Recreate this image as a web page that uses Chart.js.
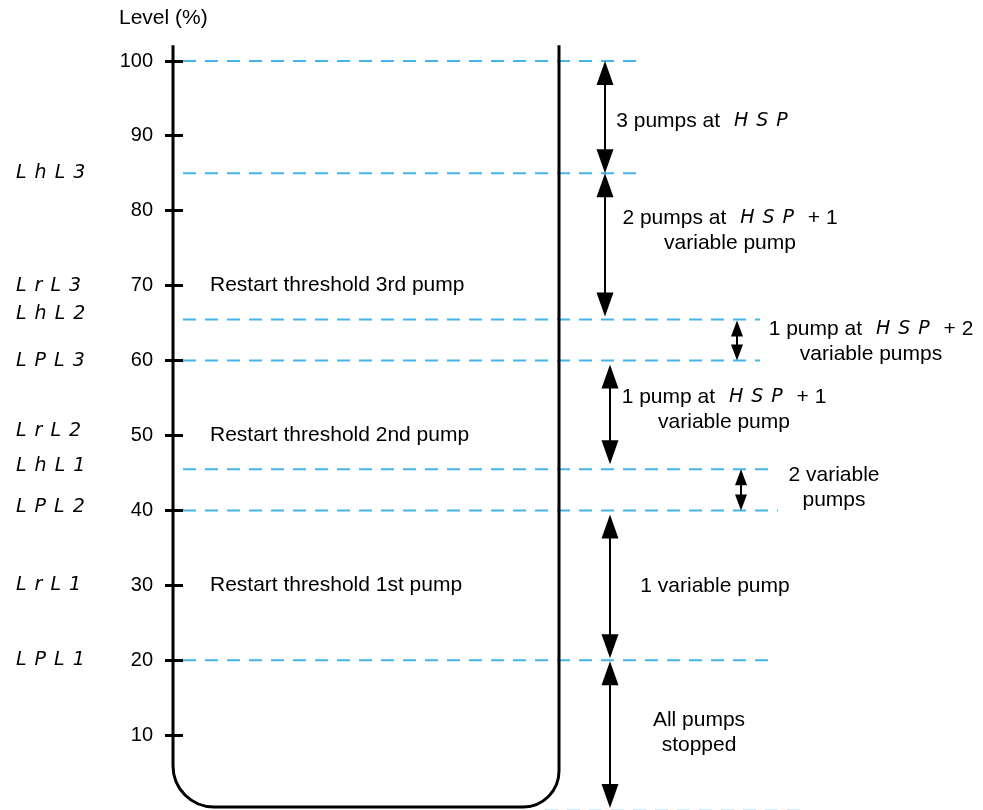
<!DOCTYPE html>
<html>
<head>
<meta charset="utf-8">
<title>Pump level thresholds</title>
<script src="https://cdn.jsdelivr.net/npm/chart.js@4.4.1/dist/chart.umd.min.js"></script>
<style>
  html, body { margin: 0; padding: 0; background: #fff; overflow: hidden; }
</style>
</head>
<body>
<canvas id="chartCanvas" width="983" height="810"></canvas>
<script>
// level axis ticks (%)
const tickValues = [10, 20, 30, 40, 50, 60, 70, 80, 90, 100];

// parameter codes written on the left, with their level (%)
const levelCodes = ["LhL3", "LrL3", "LhL2", "LPL3", "LrL2", "LhL1", "LPL2", "LrL1", "LPL1"];
const levelValues = [85, 70, 65.5, 60, 50, 45.5, 40, 30, 20];

// dashed threshold lines (%)
const lineLevels = [100, 85, 65.5, 60, 45.5, 40, 20, 0];

// restart thresholds written inside the tank
const restartLevels = [70, 50, 30];
const restartLabels = ["Restart threshold 3rd pump", "Restart threshold 2nd pump", "Restart threshold 1st pump"];

// operating bands: top level, bottom level, description ([..] = display font)
const bandTops = [100, 85, 65.5, 60, 45.5, 40, 20];
const bandBottoms = [85, 65.5, 60, 45.5, 40, 20, 0];
const bandLabels = [
  ["3 pumps at [HSP]"],
  ["2 pumps at [HSP] + 1", "variable pump"],
  ["1 pump at [HSP] + 2", "variable pumps"],
  ["1 pump at [HSP] + 1", "variable pump"],
  ["2 variable", "pumps"],
  ["1 variable pump"],
  ["All pumps", "stopped"]
];

// layout only (x in canvas px, the x scale runs 183..983)
const layout = {
  axisX: 183,
  tankLeft: 173,
  tankRight: 559,
  tankTopLevel: 102.1,
  tankBottomGap: 3,
  radiusLeft: 41,
  radiusRight: 36,
  lineStarts: [183, 183, 183, 183, 183, 183, 183, 545],
  lineEnds: [645, 645, 760, 760, 768, 778, 768, 800],
  codeX: 16,
  codeDy: [0, 0, -5, 0, -4, -3, -3, 0, 0],
  restartX: 210,
  arrowX: [605, 605, 737, 610, 741, 610, 610],
  arrowBig: [true, true, false, true, false, true, true],
  tipTop: [0, 0, 1, 4, 0, 4, 1],
  tipBottom: [0, 3, 0, 5, 0, 2, 2],
  labelX: [706, 730, 871, 724, 834, 715, 699],
  labelDy: [4, -16, 2, -5, -2, 1, -2],
  lineGap: 25
};

const FONT = "'Liberation Sans', Arial, sans-serif";
const TEXT_FONT = "21px " + FONT;
const SEG_FONT = "italic 400 19px 'DejaVu Sans', sans-serif";

function drawRich(ctx, line, cx, cy) {
  const parts = line.split(/(\[[^\]]+\])/).filter(p => p.length);
  const items = parts.map(p => {
    if (p[0] === "[") {
      const t = p.slice(1, -1);
      ctx.font = SEG_FONT;
      ctx.letterSpacing = "8px";
      const w = ctx.measureText(t).width;
      ctx.letterSpacing = "0px";
      return { t, seg: true, w: w + 8 };
    }
    ctx.font = TEXT_FONT;
    return { t: p, seg: false, w: ctx.measureText(p).width };
  });
  let x = cx - items.reduce((s, it) => s + it.w, 0) / 2;
  items.forEach(it => {
    if (it.seg) {
      ctx.font = SEG_FONT;
      ctx.letterSpacing = "8px";
      ctx.fillText(it.t, x + 8, cy);
      ctx.letterSpacing = "0px";
    } else {
      ctx.font = TEXT_FONT;
      ctx.fillText(it.t, x, cy);
    }
    x += it.w;
  });
}

function drawArrow(ctx, x, yTop, yBot, big) {
  const hw = big ? 8.5 : 6;
  const hh = big ? 24 : 16;
  ctx.lineWidth = 2;
  ctx.beginPath();
  ctx.moveTo(x, yTop + hh - 2);
  ctx.lineTo(x, yBot - hh + 2);
  ctx.stroke();
  ctx.beginPath();
  ctx.moveTo(x, yTop);
  ctx.lineTo(x - hw, yTop + hh);
  ctx.lineTo(x + hw, yTop + hh);
  ctx.closePath();
  ctx.fill();
  ctx.beginPath();
  ctx.moveTo(x, yBot);
  ctx.lineTo(x - hw, yBot - hh);
  ctx.lineTo(x + hw, yBot - hh);
  ctx.closePath();
  ctx.fill();
}

const tankPlugin = {
  id: "tank",
  afterDraw(chart) {
    const ctx = chart.ctx;
    const xs = chart.scales.x;
    const ys = chart.scales.y;
    ctx.save();
    ctx.fillStyle = "#000";
    ctx.strokeStyle = "#000";

    // tank outline (its left wall is the level axis)
    const left = xs.getPixelForValue(layout.tankLeft);
    const right = xs.getPixelForValue(layout.tankRight);
    const top = ys.getPixelForValue(layout.tankTopLevel);
    const bottom = ys.getPixelForValue(0) - layout.tankBottomGap;
    ctx.lineWidth = 3;
    ctx.beginPath();
    ctx.moveTo(left, top);
    ctx.lineTo(left, bottom - layout.radiusLeft);
    ctx.arcTo(left, bottom, left + layout.radiusLeft, bottom, layout.radiusLeft);
    ctx.lineTo(right - layout.radiusRight, bottom);
    ctx.arcTo(right, bottom, right, bottom - layout.radiusRight, layout.radiusRight);
    ctx.lineTo(right, top);
    ctx.stroke();

    // axis title
    ctx.textBaseline = "middle";
    ctx.textAlign = "left";
    ctx.font = TEXT_FONT;
    ctx.fillText("Level (%)", 119, 18);

    // restart thresholds
    restartLevels.forEach((lvl, i) => {
      ctx.fillText(restartLabels[i], layout.restartX, ys.getPixelForValue(lvl));
    });

    // parameter codes
    ctx.font = SEG_FONT;
    ctx.letterSpacing = "8px";
    levelCodes.forEach((code, i) => {
      ctx.fillText(code, layout.codeX, ys.getPixelForValue(levelValues[i]) + layout.codeDy[i]);
    });
    ctx.letterSpacing = "0px";

    // band arrows and descriptions
    bandTops.forEach((t, i) => {
      const yT = ys.getPixelForValue(t) + layout.tipTop[i];
      const yB = ys.getPixelForValue(bandBottoms[i]) - layout.tipBottom[i];
      drawArrow(ctx, layout.arrowX[i], yT, yB, layout.arrowBig[i]);
      const lines = bandLabels[i];
      const mid = (ys.getPixelForValue(t) + ys.getPixelForValue(bandBottoms[i])) / 2 + layout.labelDy[i];
      lines.forEach((ln, k) => {
        const cy = mid + (k - (lines.length - 1) / 2) * layout.lineGap;
        drawRich(ctx, ln, layout.labelX[i], cy);
      });
    });
    ctx.restore();
  }
};

const ctx = document.getElementById("chartCanvas").getContext("2d");
new Chart(ctx, {
  type: "scatter",
  data: {
    datasets: lineLevels.map((lvl, i) => ({
      label: "Level " + lvl,
      data: [{ x: layout.lineStarts[i], y: lvl }, { x: layout.lineEnds[i], y: lvl }],
      showLine: true,
      clip: false,
      borderColor: lvl === 0 ? "#d2ebf7" : "#45b4e6",
      borderWidth: 2,
      borderDash: [13, 9],
      pointRadius: 0,
      fill: false
    }))
  },
  options: {
    responsive: false,
    animation: false,
    layout: { padding: { top: 61, right: 0, bottom: 0, left: 0 } },
    plugins: {
      legend: { display: false },
      tooltip: { enabled: false }
    },
    scales: {
      x: { type: "linear", display: false, min: 183, max: 983 },
      y: {
        type: "linear",
        min: 0,
        max: 100,
        afterBuildTicks: s => { s.ticks = tickValues.map(v => ({ value: v })); },
        afterFit: s => { s.width = layout.axisX; s.paddingTop = 0; s.paddingBottom = 0; },
        ticks: { color: "#000", font: { family: FONT, size: 20 }, padding: 12 },
        grid: { drawOnChartArea: false, drawTicks: true, tickLength: 18, tickColor: "#000", tickWidth: 3 },
        border: { display: false }
      }
    }
  },
  plugins: [tankPlugin]
});
</script>
</body>
</html>
